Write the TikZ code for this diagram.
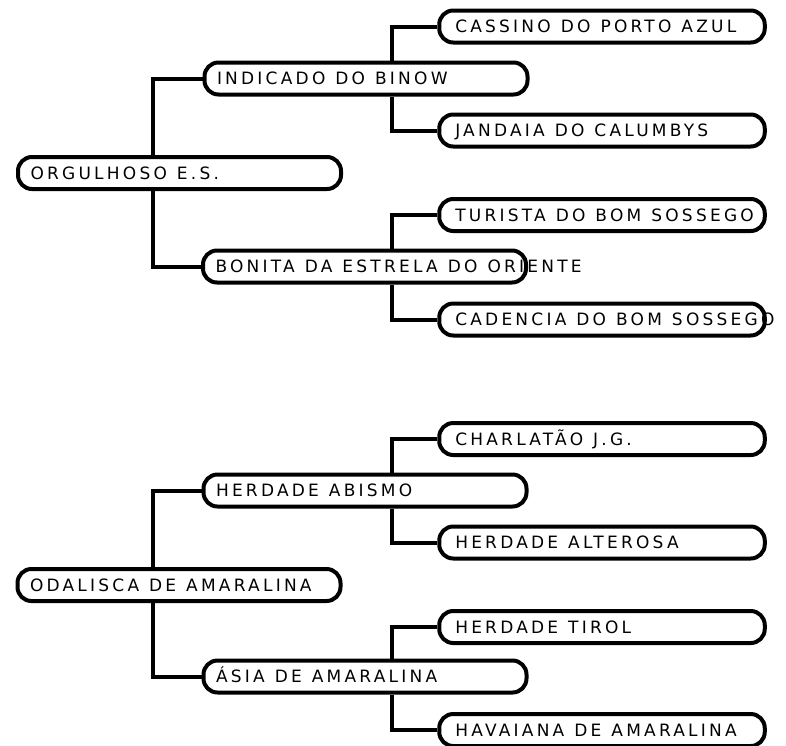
\documentclass[tikz,border=0pt]{standalone}
\usepackage{fontspec}
\newfontfamily\lblfont[LetterSpace=19]{DejaVu Sans}
\newcommand\pilltext[2]{\makebox[#1][l]{#2}}
\begin{document}
\begin{tikzpicture}[x=1pt,y=1pt,
  pill/.style={draw, line width=4pt, rounded corners=14pt, minimum height=32pt,
    inner xsep=12.5pt, inner ysep=0pt,
    text height=12.4pt, text depth=0pt,
    font={\lblfont\fontsize{17}{20}\selectfont\spaceskip=10pt\relax}},
  leaf/.style={pill, inner xsep=16pt},
  conn/.style={draw, line width=4pt}]
\useasboundingbox (0,0) rectangle (786,-745);
% top tree
\node[pill] (org) at (179.5,-173) {\pilltext{298pt}{ORGULHOSO E.S.}};
\node[pill] (ind) at (366,-78.5) {\pilltext{298pt}{INDICADO DO BINOW}};
\node[leaf] (cas) at (602,-26.5) {\pilltext{293.5pt}{CASSINO DO PORTO AZUL}};
\node[leaf] (jan) at (602,-130.5) {\pilltext{293.5pt}{JANDAIA DO CALUMBYS}};
\node[pill] (bon) at (364.5,-266.5) {\pilltext{298pt}{BONITA DA ESTRELA DO ORIENTE}};
\node[leaf] (tur) at (602,-215) {\pilltext{293.5pt}{TURISTA DO BOM SOSSEGO}};
\node[leaf] (cad) at (602,-319.5) {\pilltext{293.5pt}{CADENCIA DO BOM SOSSEGO}};
\draw[conn] ([xshift=-26.5pt]org.north) |- (ind.west);
\draw[conn] ([xshift=-26.5pt]org.south) |- (bon.west);
\draw[conn] ([xshift=26pt]ind.north) |- (cas.west);
\draw[conn] ([xshift=26pt]ind.south) |- (jan.west);
\draw[conn] ([xshift=27.5pt]bon.north) |- (tur.west);
\draw[conn] ([xshift=27.5pt]bon.south) |- (cad.west);
% bottom tree
\node[pill] (oda) at (179,-585) {\pilltext{298pt}{ODALISCA DE AMARALINA}};
\node[pill] (abi) at (365,-490.5) {\pilltext{298pt}{HERDADE ABISMO}};
\node[leaf] (cha) at (602,-439) {\pilltext{293.5pt}{CHARLATÃO J.G.}};
\node[leaf] (alt) at (602,-542.5) {\pilltext{293.5pt}{HERDADE ALTEROSA}};
\node[pill] (asi) at (365,-676.5) {\pilltext{298pt}{ÁSIA DE AMARALINA}};
\node[leaf] (tir) at (602,-627) {\pilltext{293.5pt}{HERDADE TIROL}};
\node[leaf] (hav) at (602,-730) {\pilltext{293.5pt}{HAVAIANA DE AMARALINA}};
\draw[conn] ([xshift=-26pt]oda.north) |- (abi.west);
\draw[conn] ([xshift=-26pt]oda.south) |- (asi.west);
\draw[conn] ([xshift=27pt]abi.north) |- (cha.west);
\draw[conn] ([xshift=27pt]abi.south) |- (alt.west);
\draw[conn] ([xshift=27pt]asi.north) |- (tir.west);
\draw[conn] ([xshift=27pt]asi.south) |- (hav.west);
\end{tikzpicture}
\end{document}
